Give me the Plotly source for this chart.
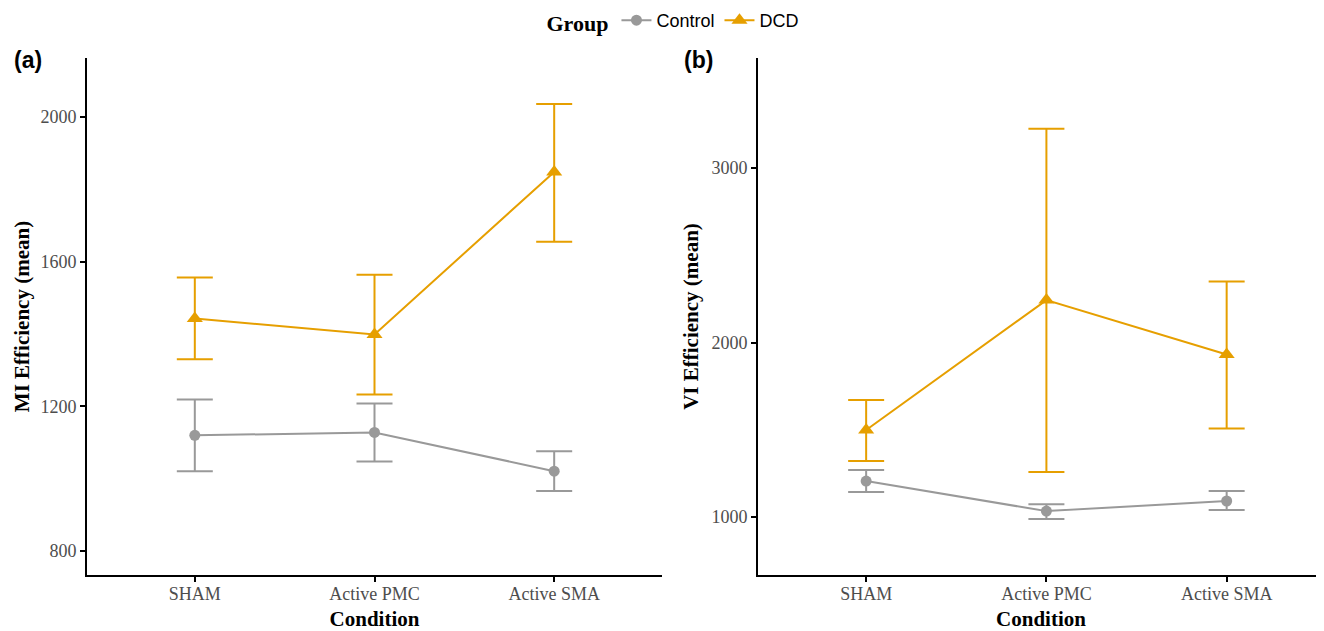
import plotly.graph_objects as go

conditions = ["SHAM", "Active PMC", "Active SMA"]

# Panel (a): MI efficiency
mi_control_mean = [1120, 1128, 1021]
mi_control_upper = [1219, 1208, 1076]
mi_control_lower = [1021, 1048, 966]
mi_dcd_mean = [1443, 1399, 1848]
mi_dcd_upper = [1556, 1564, 2036]
mi_dcd_lower = [1330, 1233, 1655]

# Panel (b): VI efficiency
vi_control_mean = [1206, 1034, 1092]
vi_control_upper = [1269, 1074, 1149]
vi_control_lower = [1143, 989, 1040]
vi_dcd_mean = [1499, 2243, 1931]
vi_dcd_upper = [1670, 3224, 2350]
vi_dcd_lower = [1321, 1258, 1507]

GRAY = "#999999"
ORANGE = "#E69F00"
SERIF = "Liberation Serif, Times New Roman, serif"
SANS = "Liberation Sans, Arial, sans-serif"

W, H = 1316, 623  # page body has an 8px margin

fig = go.Figure()


def add(mean, up, lo, name, color, symbol, size, xa, ya, show):
    fig.add_trace(go.Scatter(
        x=conditions, y=mean, name=name, mode="lines+markers",
        line=dict(color=color, width=2),
        marker=dict(color=color, symbol=symbol, size=size),
        error_y=dict(type="data", symmetric=False,
                     array=[u - m for u, m in zip(up, mean)],
                     arrayminus=[m - l for m, l in zip(mean, lo)],
                     color=color, thickness=2, width=18),
        xaxis=xa, yaxis=ya, showlegend=show, legendgroup=name,
    ))


add(mi_control_mean, mi_control_upper, mi_control_lower, "Control", GRAY, "circle", 11, "x", "y", True)
add(mi_dcd_mean, mi_dcd_upper, mi_dcd_lower, "DCD", ORANGE, "triangle-up", 14, "x", "y", True)
add(vi_control_mean, vi_control_upper, vi_control_lower, "Control", GRAY, "circle", 11, "x2", "y2", False)
add(vi_dcd_mean, vi_dcd_upper, vi_dcd_lower, "DCD", ORANGE, "triangle-up", 14, "x2", "y2", False)

axis_common = dict(
    showline=True, linecolor="black", linewidth=2,
    ticks="outside", ticklen=5, tickwidth=1.5, tickcolor="black",
    showgrid=False, zeroline=False, automargin=False,
    tickfont=dict(family=SERIF, size=18, color="#4D4D4D"),
)
ydom = [(H - 567) / H, (H - 50) / H]
title_font = dict(family=SERIF, size=21, color="black")

fig.update_layout(
    width=W, height=H,
    paper_bgcolor="white", plot_bgcolor="white",
    margin=dict(l=0, r=0, t=0, b=0, autoexpand=False),
    xaxis=dict(domain=[79 / W, 654 / W], type="category", range=[-0.6, 2.6],
               title=dict(text="<b>Condition</b>", font=title_font, standoff=20),
               anchor="y", ticklabelstandoff=-4, **axis_common),
    yaxis=dict(domain=ydom, range=[734, 2163], tickvals=[800, 1200, 1600, 2000],
               title=dict(text="<b>MI Efficiency (mean)</b>", font=title_font, standoff=5),
               anchor="x", **axis_common),
    xaxis2=dict(domain=[750 / W, 1.0], type="category", range=[-0.6, 2.54],
                title=dict(text="<b>Condition</b>", font=title_font, standoff=20),
                anchor="y2", ticklabelstandoff=-4, **axis_common),
    yaxis2=dict(domain=ydom, range=[668, 3630], tickvals=[1000, 2000, 3000],
                title=dict(text="<b>VI Efficiency (mean)</b>", font=title_font, standoff=7),
                anchor="x2", **axis_common),
    legend=dict(orientation="h", x=666 / W, xanchor="center", y=1 - 13.5 / H, yanchor="middle",
                title=dict(text="<b>Group</b>", font=dict(family=SERIF, size=22, color="black")),
                font=dict(family=SANS, size=18, color="black")),
    annotations=[
        dict(text="<b>(a)</b>", x=4 / W, y=1 - 52 / H, xref="paper", yref="paper",
             xanchor="left", yanchor="middle", showarrow=False,
             font=dict(family=SANS, size=23, color="black")),
        dict(text="<b>(b)</b>", x=674 / W, y=1 - 52 / H, xref="paper", yref="paper",
             xanchor="left", yanchor="middle", showarrow=False,
             font=dict(family=SANS, size=23, color="black")),
    ],
)

fig.write_html("out.html")
